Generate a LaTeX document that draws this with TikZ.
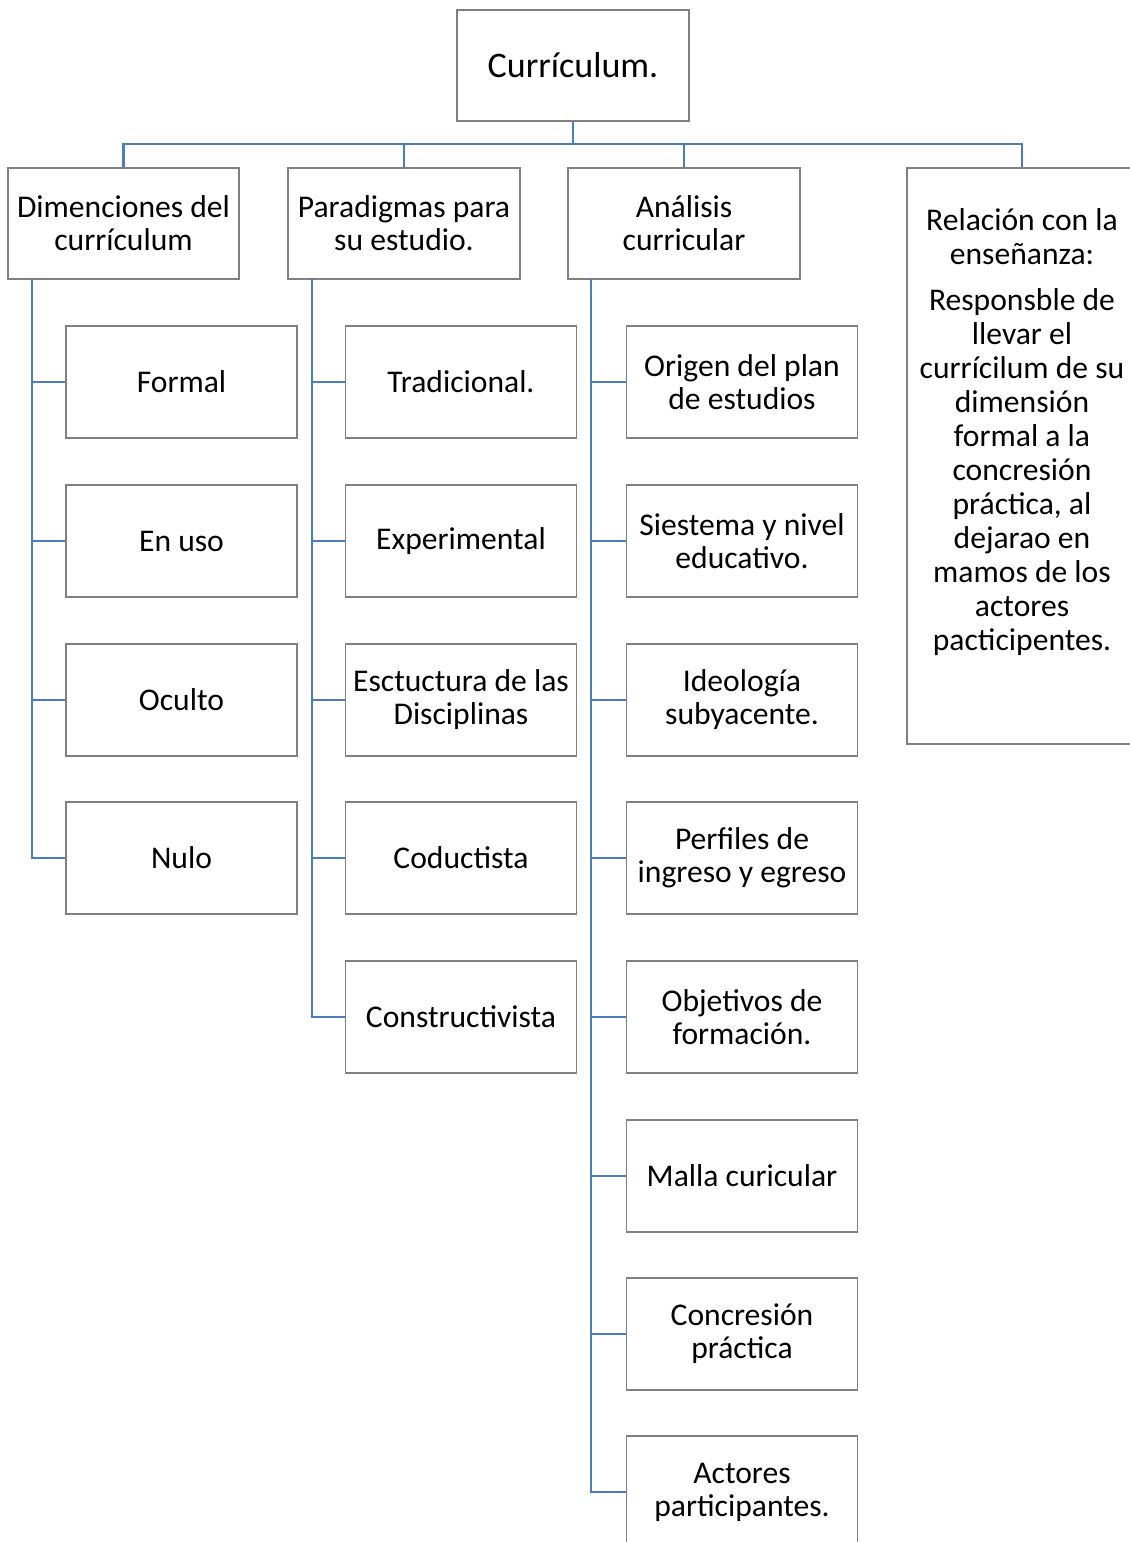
\documentclass[tikz,border=0pt]{standalone}
\usepackage{fontspec}
\setmainfont{Carlito}
\definecolor{boxgray}{RGB}{128,128,128}
\definecolor{connblue}{RGB}{74,126,187}
\tikzset{
  box/.style={draw=boxgray, line width=0.8pt, fill=white, align=center, inner sep=0pt,
    font=\fontsize{23.7pt}{24.75pt}\selectfont, text=black},
  topbox/.style={box, minimum width=174pt, minimum height=83.25pt, font=\fontsize{27pt}{30pt}\selectfont},
  lvbox/.style={box, minimum width=173.25pt, minimum height=83.25pt},
  chbox/.style={box, minimum width=173.5pt, minimum height=84pt},
  conn/.style={draw=connblue, line width=2pt}
}
\begin{document}
\begin{tikzpicture}[x=0.75pt,y=-0.75pt]
\useasboundingbox (0,0) rectangle (1130,1542);
\clip (0,0) rectangle (1130,1542);
\fill[white] (0,0) rectangle (1130,1542);

% root
\node[topbox] (root) at (573,65.5) {Currículum.};

% level 1
\node[lvbox] (A) at (123.5,223.5) {Dimenciones del\\currículum};
\node[lvbox, minimum width=174pt] (B) at (404,223.5) {Paradigmas para\\su estudio.};
\node[lvbox, minimum width=174pt] (C) at (684,223.5) {Análisis\\curricular};
\node[box, minimum width=172.5pt, minimum height=432pt] (D) at (1022,456) {};
\node[anchor=north, align=center, inner sep=0pt, font=\fontsize{23.7pt}{25.5pt}\selectfont] (Dt) at (1022,208)
  {Relación con la\\enseñanza:\\[9.5pt]Responsble de\\llevar el\\currícilum de su\\dimensión\\formal a la\\concresión\\práctica, al\\dejarao en\\mamos de los\\actores\\pacticipentes.};

\coordinate (bus) at (573,144);
\draw[conn] (root.south) -- (root.south |- bus);
\draw[conn] (A.north) -- (A.north |- bus) -- (D.north |- bus) -- (D.north);
\draw[conn] (B.north) -- (B.north |- bus);
\draw[conn] (C.north) -- (C.north |- bus);

% children of A
\node[chbox, minimum width=173.25pt] (A1) at (181.5,382) {Formal};
\node[chbox, minimum width=173.25pt] (A2) at (181.5,541) {En uso};
\node[chbox, minimum width=173.25pt] (A3) at (181.5,700) {Oculto};
\node[chbox, minimum width=173.25pt] (A4) at (181.5,858) {Nulo};

% children of B
\node[chbox] (B1) at (461,382) {Tradicional.};
\node[chbox] (B2) at (461,541) {Experimental};
\node[chbox] (B3) at (461,700) {Esctuctura de las\\Disciplinas};
\node[chbox] (B4) at (461,858) {Coductista};
\node[chbox] (B5) at (461,1017) {Constructivista};

% children of C
\node[chbox] (C1) at (742,382) {Origen del plan\\de estudios};
\node[chbox] (C2) at (742,541) {Siestema y nivel\\educativo.};
\node[chbox] (C3) at (742,700) {Ideología\\subyacente.};
\node[chbox] (C4) at (742,858) {Perfiles de\\ingreso y egreso};
\node[chbox] (C5) at (742,1017) {Objetivos de\\formación.};
\node[chbox] (C6) at (742,1176) {Malla curicular};
\node[chbox] (C7) at (742,1334) {Concresión\\práctica};
\node[chbox] (C8) at (742,1492) {Actores\\participantes.};

% spines
\coordinate (sA) at (32,279);
\coordinate (sB) at (312,279);
\coordinate (sC) at (591,279);
\foreach \c in {A1,A2,A3,A4} \draw[conn] (sA) |- (\c.west);
\foreach \c in {B1,B2,B3,B4,B5} \draw[conn] (sB) |- (\c.west);
\foreach \c in {C1,C2,C3,C4,C5,C6,C7,C8} \draw[conn] (sC) |- (\c.west);
\end{tikzpicture}
\end{document}
